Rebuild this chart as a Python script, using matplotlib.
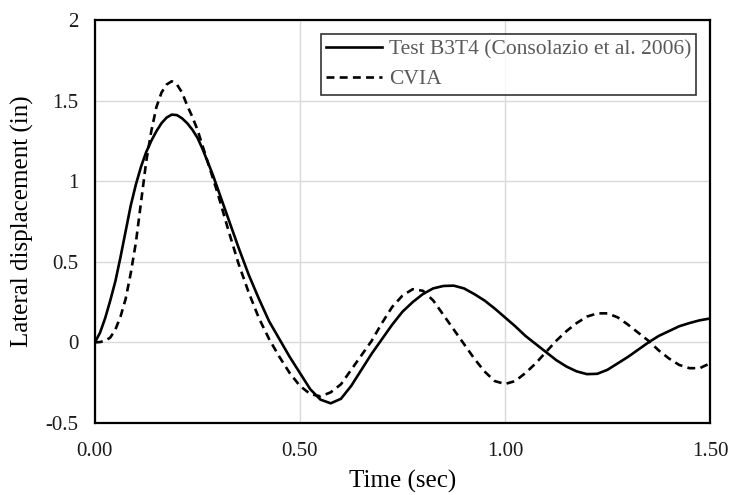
import numpy as np
import matplotlib
matplotlib.use("Agg")
import matplotlib.pyplot as plt

# time axis (sec): finer steps over the first peak, then every 0.025 s
time = np.round(np.concatenate([np.arange(0, 0.3, 0.0125),
                                np.arange(0.3, 1.5001, 0.025)]), 4)

# Test B3T4 (Consolazio et al. 2006)
test_b3t4 = [0.00, 0.06, 0.15, 0.26, 0.38, 0.53, 0.69, 0.85, 0.98, 1.09,
             1.18, 1.25, 1.31, 1.36, 1.395, 1.413, 1.41, 1.39, 1.36, 1.32,
             1.27, 1.20, 1.12, 1.04,
             0.95, 0.77, 0.59, 0.42, 0.27, 0.13, 0.02, -0.09,
             -0.19, -0.29, -0.355, -0.378, -0.35, -0.27, -0.17, -0.07, 0.02, 0.11,
             0.19, 0.25, 0.30, 0.335, 0.35, 0.352, 0.335, 0.30, 0.26, 0.21,
             0.155, 0.10, 0.04, -0.01, -0.06, -0.11, -0.15, -0.18, -0.197, -0.195,
             -0.17, -0.13, -0.09, -0.045, 0.00, 0.04, 0.07, 0.10, 0.12, 0.137,
             0.148]

# CVIA
cvia = [0.00, 0.002, 0.01, 0.03, 0.08, 0.16, 0.27, 0.43, 0.62, 0.87,
        1.12, 1.31, 1.46, 1.55, 1.60, 1.62, 1.60, 1.55, 1.47, 1.40,
        1.32, 1.22, 1.12, 1.02,
        0.92, 0.70, 0.49, 0.31, 0.15, 0.02, -0.09, -0.19,
        -0.27, -0.32, -0.335, -0.31, -0.26, -0.17, -0.08, 0.01, 0.12, 0.22,
        0.29, 0.33, 0.32, 0.26, 0.17, 0.08, -0.01, -0.10, -0.18, -0.24,
        -0.258, -0.24, -0.19, -0.13, -0.06, 0.01, 0.07, 0.12, 0.16, 0.18,
        0.18, 0.155, 0.11, 0.06, 0.01, -0.05, -0.10, -0.14, -0.16, -0.16,
        -0.13]

xticks = [0.0, 0.5, 1.0, 1.5]
xtick_labels = ["0.00", "0.50", "1.00", "1.50"]
yticks = [-0.5, 0, 0.5, 1, 1.5, 2]
ytick_labels = ["-0.5", "0", "0.5", "1", "1.5", "2"]

plt.rcParams['font.family'] = ['Liberation Serif', 'DejaVu Serif']

fig = plt.figure(figsize=(7.3, 4.95), dpi=100)
ax = fig.add_axes([0.130, 0.1455, 0.8426, 0.8141])

ax.plot(time, test_b3t4, color='black', lw=1.9, solid_joinstyle='round',
        label="Test B3T4 (Consolazio et al. 2006)")
ax.plot(time, cvia, color='black', lw=1.9, linestyle=(0, (3, 2)), label="CVIA")

ax.set_xlim(0, 1.5)
ax.set_ylim(-0.5, 2)
ax.set_xticks(xticks)
ax.set_xticklabels(xtick_labels)
ax.set_yticks(yticks)
ax.set_yticklabels(ytick_labels)
ax.tick_params(length=0, labelsize=15, pad=12, colors='#1a1a1a')
ax.tick_params(axis='x', pad=14)
ax.grid(True, color='#d9d9d9', lw=1)
ax.set_axisbelow(True)
for s in ax.spines.values():
    s.set_linewidth(1.6)
    s.set_color('black')

ax.set_xlabel("Time (sec)", fontsize=18, labelpad=6)
ax.set_ylabel("Lateral displacement (in)", fontsize=18, labelpad=8)

leg = ax.legend(loc='upper right', bbox_to_anchor=(0.978, 0.965), fontsize=15.5,
                frameon=True, fancybox=False, edgecolor='black', handlelength=2.6,
                handletextpad=0.3, borderpad=0.25, labelspacing=0.45,
                borderaxespad=0)
leg.get_frame().set_linewidth(1.2)
for t in leg.get_texts():
    t.set_color('#595959')

fig.savefig("out.png", dpi=100)
